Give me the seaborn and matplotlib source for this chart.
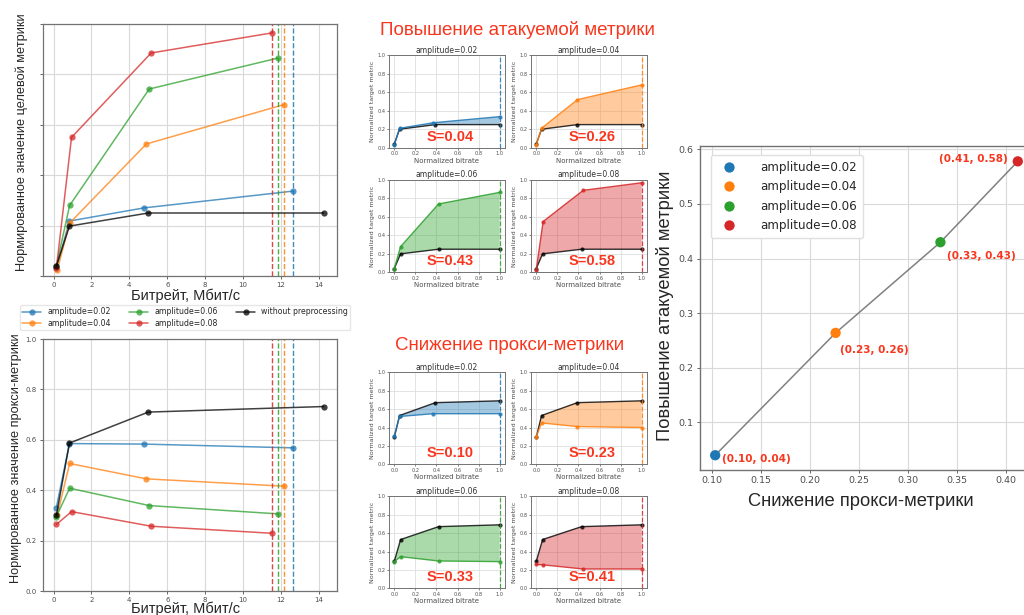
import numpy as np
import pandas as pd
import seaborn as sns
import matplotlib
matplotlib.use("Agg")
import matplotlib.pyplot as plt

# ---------------- data ----------------
amplitudes = ["amplitude=0.02", "amplitude=0.04", "amplitude=0.06", "amplitude=0.08"]
base_label = "without preprocessing"

bitrate_02 = [0.15, 0.84, 4.75, 12.65]
bitrate_04 = [0.20, 0.85, 4.90, 12.15]
bitrate_06 = [0.15, 0.85, 5.05, 11.85]
bitrate_08 = [0.15, 0.95, 5.15, 11.55]
bitrate_base = [0.15, 0.84, 5.00, 14.25]

target_02 = [0.030, 0.218, 0.270, 0.337]
target_04 = [0.025, 0.210, 0.524, 0.680]
target_06 = [0.040, 0.280, 0.742, 0.865]
target_08 = [0.030, 0.550, 0.885, 0.965]
target_base = [0.040, 0.198, 0.250, 0.250]

proxy_02 = [0.331, 0.585, 0.583, 0.568]
proxy_04 = [0.302, 0.506, 0.445, 0.416]
proxy_06 = [0.295, 0.408, 0.339, 0.306]
proxy_08 = [0.264, 0.315, 0.257, 0.229]
proxy_base = [0.300, 0.587, 0.710, 0.732]

# normalized (small panels)
norm_x_02 = [0.0, 0.05, 0.37, 1.0]
norm_x_04 = [0.0, 0.05, 0.39, 1.0]
norm_x_06 = [0.0, 0.06, 0.42, 1.0]
norm_x_08 = [0.0, 0.065, 0.445, 1.0]
norm_base_x_02 = [0.0, 0.05, 0.39, 1.0]
norm_base_x_04 = [0.0, 0.05, 0.39, 1.0]
norm_base_x_06 = [0.0, 0.06, 0.42, 1.0]
norm_base_x_08 = [0.0, 0.06, 0.43, 1.0]

norm_target_02 = [0.03, 0.21, 0.27, 0.336]
norm_target_04 = [0.03, 0.21, 0.52, 0.68]
norm_target_06 = [0.04, 0.278, 0.74, 0.866]
norm_target_08 = [0.03, 0.55, 0.888, 0.97]
norm_target_base = [0.04, 0.20, 0.25, 0.25]

norm_proxy_02 = [0.308, 0.52, 0.55, 0.55]
norm_proxy_04 = [0.30, 0.45, 0.41, 0.40]
norm_proxy_06 = [0.29, 0.344, 0.297, 0.29]
norm_proxy_08 = [0.26, 0.255, 0.21, 0.21]
norm_proxy_base = [0.293, 0.53, 0.67, 0.69]

target_S = [0.04, 0.26, 0.43, 0.58]
proxy_S = [0.10, 0.23, 0.33, 0.41]

summary_proxy = [0.103, 0.226, 0.333, 0.412]
summary_target = [0.040, 0.264, 0.430, 0.578]

big_xticks = [0, 2, 4, 6, 8, 10, 12, 14]
unit_ticks = [0.0, 0.2, 0.4, 0.6, 0.8, 1.0]
right_xticks = [0.10, 0.15, 0.20, 0.25, 0.30, 0.35, 0.40]
right_yticks = [0.1, 0.2, 0.3, 0.4, 0.5, 0.6]

title_target = "Повышение атакуемой метрики"
title_proxy = "Снижение прокси-метрики"
ylabel_target = "Нормированное значение целевой метрики"
ylabel_proxy = "Нормированное значение прокси-метрики"
xlabel_big = "Битрейт, Мбит/с"
small_xlabel = "Normalized bitrate"
small_ylabel = "Normalized target metric"

# ---------------- style ----------------
sns.set_style("ticks", {"axes.grid": True, "grid.color": "0.85", "axes.edgecolor": "0.45",
                        "xtick.color": "0.3", "ytick.color": "0.3"})
plt.rcParams["font.family"] = ["DejaVu Sans"]
SLIDE = ["Liberation Sans", "DejaVu Sans"]
colors = sns.color_palette("tab10", 4)
RED = "#f8361e"

W, H = 1024, 615
fig = plt.figure(figsize=(W / 100, H / 100), dpi=100)


def rect(l, t, r, b):
    return [l / W, 1 - b / H, (r - l) / W, (b - t) / H]


bitrates = [bitrate_02, bitrate_04, bitrate_06, bitrate_08]
targets = [target_02, target_04, target_06, target_08]
proxies = [proxy_02, proxy_04, proxy_06, proxy_08]


def big_panel(ax, values, base_values, show_ylabels):
    for lab, xs, ys, c in zip(amplitudes, bitrates, values, colors):
        sns.lineplot(x=xs, y=ys, ax=ax, color=c, marker="o", markersize=4.5,
                     markeredgewidth=0, alpha=0.75, lw=1.1, sort=False, label=lab)
        ax.axvline(max(xs), color=c, ls="--", lw=1.0, alpha=0.85)
    sns.lineplot(x=bitrate_base, y=base_values, ax=ax, color="black", marker="o",
                 markersize=4.5, markeredgewidth=0, alpha=0.75, lw=1.1, sort=False, label=base_label)
    ax.set_ylim(0, 1)
    ax.set_yticks(unit_ticks)
    ax.set_xticks(big_xticks)
    ax.tick_params(labelsize=5, length=2.5, width=0.6, pad=2)
    if not show_ylabels:
        ax.set_yticklabels([])
    for s in ax.spines.values():
        s.set_linewidth(0.9)
    ax.grid(True, color="0.85", lw=0.8)


ax_t = fig.add_axes(rect(43, 24, 337, 276))
big_panel(ax_t, targets, target_base, False)
ax_t.get_legend().remove()
ax_p = fig.add_axes(rect(43, 339, 337, 591))
big_panel(ax_p, proxies, proxy_base, True)
handles, labels = ax_p.get_legend_handles_labels()
ax_p.get_legend().remove()
fig.legend(handles, labels, ncol=3, loc="upper left", bbox_to_anchor=(20 / W, 1 - 305 / H),
           fontsize=5.6, frameon=True, borderaxespad=0, handlelength=2.4, columnspacing=2.4,
           labelspacing=0.35, borderpad=0.3, edgecolor="0.9", framealpha=1)

fig.text(22 / W, 1 - 142 / H, ylabel_target, rotation=90, ha="center", va="center",
         fontsize=9.2, family=SLIDE)
fig.text(16 / W, 1 - 458 / H, ylabel_proxy, rotation=90, ha="center", va="center",
         fontsize=9.2, family=SLIDE)
fig.text(186 / W, 1 - 296 / H, xlabel_big, ha="center", va="center", fontsize=10.5, family=SLIDE)
fig.text(186 / W, 1 - 609 / H, xlabel_big, ha="center", va="center", fontsize=10.5, family=SLIDE)

# ---------------- small panels ----------------
norm_xs = [norm_x_02, norm_x_04, norm_x_06, norm_x_08]
norm_bxs = [norm_base_x_02, norm_base_x_04, norm_base_x_06, norm_base_x_08]
norm_ts = [norm_target_02, norm_target_04, norm_target_06, norm_target_08]
norm_ps = [norm_proxy_02, norm_proxy_04, norm_proxy_06, norm_proxy_08]

col_lr = [(389, 505), (531, 647)]
group_rows = [[(55.3, 147.7), (180, 272.3)], [(372.3, 464.3), (496.3, 588.3)]]


def small_panel(ax, i, xs, ys, bxs, bys, score):
    c = colors[i]
    ax.fill(np.concatenate([xs, bxs[::-1]]), np.concatenate([ys, bys[::-1]]),
            color=c, alpha=0.4, lw=0)
    sns.lineplot(x=bxs, y=bys, ax=ax, color="black", marker="o", markersize=3,
                 markeredgewidth=0, lw=1, alpha=0.8, sort=False)
    sns.lineplot(x=xs, y=ys, ax=ax, color=c, marker="o", markersize=3,
                 markeredgewidth=0, lw=1, alpha=0.85, sort=False)
    ax.axvline(max(xs), color=c, ls="--", lw=0.9, alpha=0.85)
    ax.set_xlim(-0.05, 1.05)
    ax.set_ylim(0, 1)
    ax.set_xticks(unit_ticks)
    ax.set_yticks(unit_ticks)
    ax.tick_params(labelsize=3.6, length=1.5, width=0.5, pad=1)
    ax.set_title(amplitudes[i], fontsize=5.5, pad=2, color="0.2")
    ax.set_xlabel(small_xlabel, fontsize=5, labelpad=1, color="0.3")
    ax.set_ylabel(small_ylabel, fontsize=4.6, labelpad=1.5, color="0.3")
    ax.grid(True, color="0.87", lw=0.6)
    for s in ax.spines.values():
        s.set_linewidth(0.7)
    ax.text(0.53, 0.12, f"S={score:.2f}", transform=ax.transAxes, ha="center", va="center",
            color=RED, fontsize=10.5, fontweight="bold", family=SLIDE)


for g, (vals, base, scores) in enumerate([(norm_ts, norm_target_base, target_S),
                                          (norm_ps, norm_proxy_base, proxy_S)]):
    for i in range(4):
        r, cidx = divmod(i, 2)
        l, rr = col_lr[cidx]
        t, b = group_rows[g][r]
        ax = fig.add_axes(rect(l, t, rr, b))
        small_panel(ax, i, norm_xs[i], vals[i], norm_bxs[i], base, scores[i])

fig.text(517 / W, 1 - 30 / H, title_target, ha="center", va="center", color=RED,
         fontsize=13.5, family=SLIDE)
fig.text(510 / W, 1 - 345 / H, title_proxy, ha="center", va="center", color=RED,
         fontsize=13.5, family=SLIDE)

# ---------------- right summary plot ----------------
ax_r = fig.add_axes(rect(700, 145.5, 1031, 470))
ax_r.plot(summary_proxy, summary_target, color="0.45", lw=1.1, alpha=0.9, zorder=1)
df = pd.DataFrame({"proxy": summary_proxy, "target": summary_target, "amp": amplitudes})
sns.scatterplot(data=df, x="proxy", y="target", hue="amp", palette=colors, s=55,
                edgecolor="none", ax=ax_r, zorder=3)
ax_r.set_xlim(0.0875, 0.4255)
ax_r.set_ylim(0.013, 0.607)
ax_r.set_xticks(right_xticks)
ax_r.set_yticks(right_yticks)
ax_r.tick_params(labelsize=6.8, length=2.5, width=0.6, pad=2)
ax_r.set_xlabel("")
ax_r.set_ylabel("")
ax_r.grid(True, color="0.85", lw=0.8)
for s in ax_r.spines.values():
    s.set_linewidth(1.0)
leg = ax_r.legend(loc="upper left", fontsize=8.6, markerscale=1.0, handletextpad=1.6,
                  labelspacing=0.55, borderpad=0.5, edgecolor="0.88", framealpha=1,
                  bbox_to_anchor=(0.015, 0.99))
offsets = [(5, -3, "left", "center"), (3, -12, "left", "center"),
           (5, -10, "left", "center"), (-7, 2, "right", "center")]
for x, y, (dx, dy, ha, va) in zip(summary_proxy, summary_target, offsets):
    ax_r.annotate(f"({x:.2f}, {y:.2f})", (x, y), xytext=(dx, dy), textcoords="offset points",
                  ha=ha, va=va, color=RED, fontsize=7.5, fontweight="bold")

fig.text(665 / W, 1 - 306 / H, title_target, rotation=90, ha="center", va="center",
         fontsize=13.2, family=SLIDE)
fig.text(861 / W, 1 - 501 / H, title_proxy, ha="center", va="center",
         fontsize=13.2, family=SLIDE)

fig.savefig("out.png", dpi=100)
